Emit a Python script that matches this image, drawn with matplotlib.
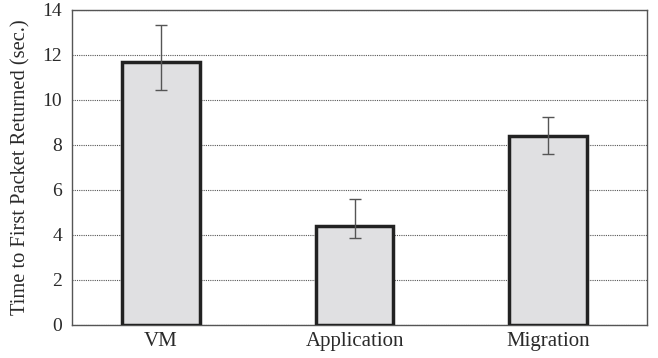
import matplotlib.pyplot as plt

categories = ['VM', 'Application', 'Migration']
times = [11.7, 4.42, 8.42]
err_low = [10.45, 3.85, 7.58]
err_high = [13.33, 5.58, 9.23]

plt.rcParams['font.family'] = ['Liberation Serif', 'DejaVu Serif']

fig = plt.figure(figsize=(6.58, 3.58), dpi=100)
ax = fig.add_axes([0.1094, 0.0922, 0.8736, 0.88])

x = range(len(categories))
yerr = [[t - lo for t, lo in zip(times, err_low)],
        [hi - t for t, hi in zip(times, err_high)]]

ax.bar(x, times, width=0.4, color='#e0e0e2', edgecolor='#222222',
       linewidth=2.5, zorder=3)
ax.errorbar(x, times, yerr=yerr, fmt='none', ecolor='#555555',
            elinewidth=1, capsize=4, capthick=1, zorder=4)

ax.set_xlim(-0.46, 2.51)
ax.set_ylim(0, 14)
ax.set_yticks(range(0, 15, 2))
ax.set_xticks(list(x))
ax.set_xticklabels(categories)
ax.yaxis.grid(True, linestyle=(0, (1, 1)), color='#555555', linewidth=0.8, zorder=0)
ax.tick_params(length=0, colors='#2a2a2a')
ax.tick_params(axis='y', labelsize=14, pad=7)
ax.tick_params(axis='x', labelsize=15, pad=5)
ax.set_ylabel('Time to First Packet Returned (sec.)', fontsize=14.8,
              color='#2a2a2a', labelpad=9)

for s in ax.spines.values():
    s.set_color('#555555')
    s.set_linewidth(1)

fig.savefig('out.png', dpi=100)
